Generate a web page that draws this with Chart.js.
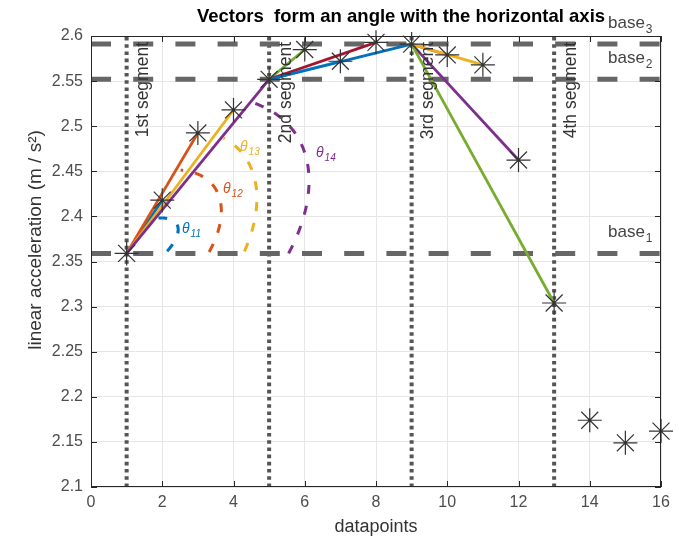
<!DOCTYPE html>
<html>
<head>
<meta charset="utf-8">
<script src="https://cdn.jsdelivr.net/npm/chart.js@4.4.1/dist/chart.umd.min.js"></script>
<style>
html, body { margin: 0; padding: 0; background: #fff; }
#wrap { width: 679px; height: 543px; }
</style>
</head>
<body>
<div id="wrap"><canvas id="chart" width="679" height="543"></canvas></div>
<script>
// datos
var datapoints = [1, 2, 3, 4, 5, 6, 7, 8, 9, 10, 11, 12, 13, 14, 15, 16];
var acceleration = [2.359, 2.418, 2.4925, 2.518, 2.552, 2.585, 2.572, 2.593, 2.591, 2.579, 2.568, 2.4625, 2.304, 2.174, 2.149, 2.162];

// inicio de cada segmento (indice en datapoints) y su nombre
var segmentStart = [0, 4, 8, 12];
var segmentNames = ['1st segment', '2nd segment', '3rd segment', '4th segment'];
// bases: valor en el inicio de los segmentos 1..3
var baseIndex = [0, 4, 8];
var baseNames = ['1', '2', '3'];

// vectores: desde / hasta (indices)
var vectorFrom = [0, 0, 0, 0, 4, 4, 4, 4, 8, 8, 8, 8];
var vectorTo = [1, 2, 3, 4, 5, 6, 7, 8, 9, 10, 11, 12];
var vectorColors = ['#0072BD', '#D95319', '#EDB120', '#7E2F8E',
                    '#77AC30', '#4DBEEE', '#A2142F', '#0072BD',
                    '#D95319', '#EDB120', '#7E2F8E', '#77AC30'];

var xTicks = [0, 2, 4, 6, 8, 10, 12, 14, 16];
var yTicks = [2.1, 2.15, 2.2, 2.25, 2.3, 2.35, 2.4, 2.45, 2.5, 2.55, 2.6];

// arcos de angulo (en pixeles, elipse girada alrededor del vertice)
var angleArcs = [
    { label: '11', color: '#0072BD', a: 58, b: 23.5, phi: 30, t0: 3, t1: 48, lx: 182, ly: 228 },
    { label: '12', color: '#D95319', a: 110, b: 62, phi: 38, t0: 1, t1: 57, lx: 223, ly: 188 },
    { label: '13', color: '#EDB120', a: 153, b: 95, phi: 42, t0: 1, t1: 50, lx: 240, ly: 146 },
    { label: '14', color: '#7E2F8E', a: 207, b: 123, phi: 36, t0: 0, t1: 50, lx: 316, ly: 152 }
];

var FONT = "'Liberation Sans', Arial, Helvetica, sans-serif";

var datasets = [];

// estrellas
datasets.push({
    label: 'data',
    data: datapoints.map(function (x, i) { return { x: x, y: acceleration[i] }; }),
    showLine: false,
    pointStyle: 'star',
    pointRadius: 12,
    pointBorderColor: '#333',
    pointBorderWidth: 1.2,
    pointBackgroundColor: 'transparent',
    clip: false,
    order: 0
});

// vectores
for (var k = 0; k < vectorFrom.length; k++) {
    var f = vectorFrom[k], t = vectorTo[k];
    datasets.push({
        label: 'v' + k,
        data: [{ x: datapoints[f], y: acceleration[f] }, { x: datapoints[t], y: acceleration[t] }],
        showLine: true,
        borderColor: vectorColors[k],
        borderWidth: 2.8,
        pointRadius: 0,
        order: 50 - k
    });
}

// lineas base (discontinuas)
baseIndex.forEach(function (bi, i) {
    datasets.push({
        label: 'base' + baseNames[i],
        data: [{ x: xTicks[0], y: acceleration[bi] }, { x: xTicks[xTicks.length - 1], y: acceleration[bi] }],
        showLine: true,
        borderColor: '#666',
        borderWidth: 5,
        borderDash: [20, 22.2],
        borderCapStyle: 'butt',
        pointRadius: 0,
        order: 100
    });
});

// lineas verticales de segmento (punteadas)
segmentStart.forEach(function (si, i) {
    datasets.push({
        label: segmentNames[i],
        data: [{ x: datapoints[si], y: yTicks[0] }, { x: datapoints[si], y: yTicks[yTicks.length - 1] }],
        showLine: true,
        borderColor: '#555',
        borderWidth: 4,
        borderDash: [3.6, 3.6],
        borderCapStyle: 'butt',
        pointRadius: 0,
        order: 101
    });
});

var extras = {
    id: 'extras',
    afterDatasetsDraw: function (chart) {
        var ctx = chart.ctx;
        var xs = chart.scales.x, ys = chart.scales.y;
        var vx = xs.getPixelForValue(datapoints[0]);
        var vy = ys.getPixelForValue(acceleration[0]);

        // arcos
        angleArcs.forEach(function (arc) {
            ctx.save();
            ctx.strokeStyle = arc.color;
            ctx.lineWidth = 3;
            ctx.setLineDash([9, 12]);
            ctx.beginPath();
            var phi = arc.phi * Math.PI / 180;
            for (var d = arc.t0; d <= arc.t1; d += 0.5) {
                var th = d * Math.PI / 180;
                var c = Math.cos(th - phi), s = Math.sin(th - phi);
                var r = arc.a * arc.b / Math.sqrt(Math.pow(arc.b * c, 2) + Math.pow(arc.a * s, 2));
                var px = vx + r * Math.cos(th), py = vy - r * Math.sin(th);
                if (d === arc.t0) ctx.moveTo(px, py); else ctx.lineTo(px, py);
            }
            ctx.stroke();
            ctx.restore();

            ctx.save();
            ctx.fillStyle = arc.color;
            ctx.textBaseline = 'alphabetic';
            ctx.font = 'italic 14px ' + FONT;
            ctx.fillText('\u03B8', arc.lx, arc.ly + 5);
            var w = ctx.measureText('\u03B8').width;
            ctx.font = 'italic 10px ' + FONT;
            ctx.fillText(arc.label, arc.lx + w + 1, arc.ly + 9);
            ctx.restore();
        });

        // textos de segmento
        ctx.save();
        ctx.fillStyle = '#333';
        ctx.font = '17.5px ' + FONT;
        segmentStart.forEach(function (si, i) {
            var x = xs.getPixelForValue(datapoints[si]) + 17;
            ctx.save();
            ctx.translate(x, chart.chartArea.top + 6);
            ctx.rotate(-Math.PI / 2);
            ctx.textAlign = 'right';
            ctx.textBaseline = 'middle';
            ctx.fillText(segmentNames[i], 0, 0);
            ctx.restore();
        });
        ctx.restore();

        // textos base
        ctx.save();
        ctx.fillStyle = '#444';
        baseIndex.forEach(function (bi, i) {
            var y = ys.getPixelForValue(acceleration[bi]) - 16;
            ctx.font = '17px ' + FONT;
            ctx.textBaseline = 'alphabetic';
            ctx.fillText('base', 608, y);
            var w = ctx.measureText('base').width;
            ctx.font = '12px ' + FONT;
            ctx.fillText(baseNames[i], 608 + w + 1, y + 5);
        });
        ctx.restore();
    },
    afterDraw: function (chart) {
        var ctx = chart.ctx, a = chart.chartArea;
        var xs = chart.scales.x, ys = chart.scales.y;
        ctx.save();
        ctx.strokeStyle = '#262626';
        ctx.lineWidth = 1;
        ctx.strokeRect(a.left + 0.5, a.top + 0.5, a.right - a.left - 1, a.bottom - a.top - 1);
        ctx.beginPath();
        xTicks.forEach(function (v) {
            var x = Math.round(xs.getPixelForValue(v)) + 0.5;
            ctx.moveTo(x, a.bottom); ctx.lineTo(x, a.bottom - 6);
            ctx.moveTo(x, a.top); ctx.lineTo(x, a.top + 6);
        });
        yTicks.forEach(function (v) {
            var y = Math.round(ys.getPixelForValue(v)) + 0.5;
            ctx.moveTo(a.left, y); ctx.lineTo(a.left + 6, y);
            ctx.moveTo(a.right, y); ctx.lineTo(a.right - 6, y);
        });
        ctx.stroke();

        // titulos
        ctx.fillStyle = '#333';
        ctx.font = '18px ' + FONT;
        ctx.textAlign = 'center';
        ctx.textBaseline = 'middle';
        ctx.fillText('datapoints', (a.left + a.right) / 2, 527);
        ctx.save();
        ctx.translate(36, 240);
        ctx.rotate(-Math.PI / 2);
        ctx.font = '19px ' + FONT;
        ctx.fillText('linear acceleration (m / s\u00B2)', 0, 0);
        ctx.restore();

        ctx.fillStyle = '#000';
        ctx.font = 'bold 18.5px ' + FONT;
        ctx.fillText('Vectors  form an angle with the horizontal axis', 401, 17);
        ctx.restore();
    }
};

new Chart(document.getElementById('chart'), {
    type: 'scatter',
    data: { datasets: datasets },
    options: {
        responsive: false,
        animation: false,
        layout: { padding: { left: 0, right: 18, top: 36, bottom: 0 } },
        plugins: { legend: { display: false }, tooltip: { enabled: false } },
        scales: {
            x: {
                type: 'linear',
                min: 0,
                max: 16,
                afterFit: function (s) { s.height = 56; },
                afterBuildTicks: function (s) { s.ticks = xTicks.map(function (v) { return { value: v }; }); },
                grid: { color: '#e6e6e6', drawTicks: false },
                border: { display: false },
                ticks: { color: '#4d4d4d', font: { size: 16, family: FONT }, padding: 6, maxRotation: 0 }
            },
            y: {
                type: 'linear',
                min: 2.1,
                max: 2.6,
                afterFit: function (s) { s.width = 91; },
                afterBuildTicks: function (s) { s.ticks = yTicks.map(function (v) { return { value: v }; }); },
                grid: { color: '#e6e6e6', drawTicks: false },
                border: { display: false },
                ticks: {
                    color: '#4d4d4d', font: { size: 16, family: FONT }, padding: 8,
                    callback: function (v) { return String(Math.round(v * 100) / 100); }
                }
            }
        }
    },
    plugins: [extras]
});
</script>
</body>
</html>
